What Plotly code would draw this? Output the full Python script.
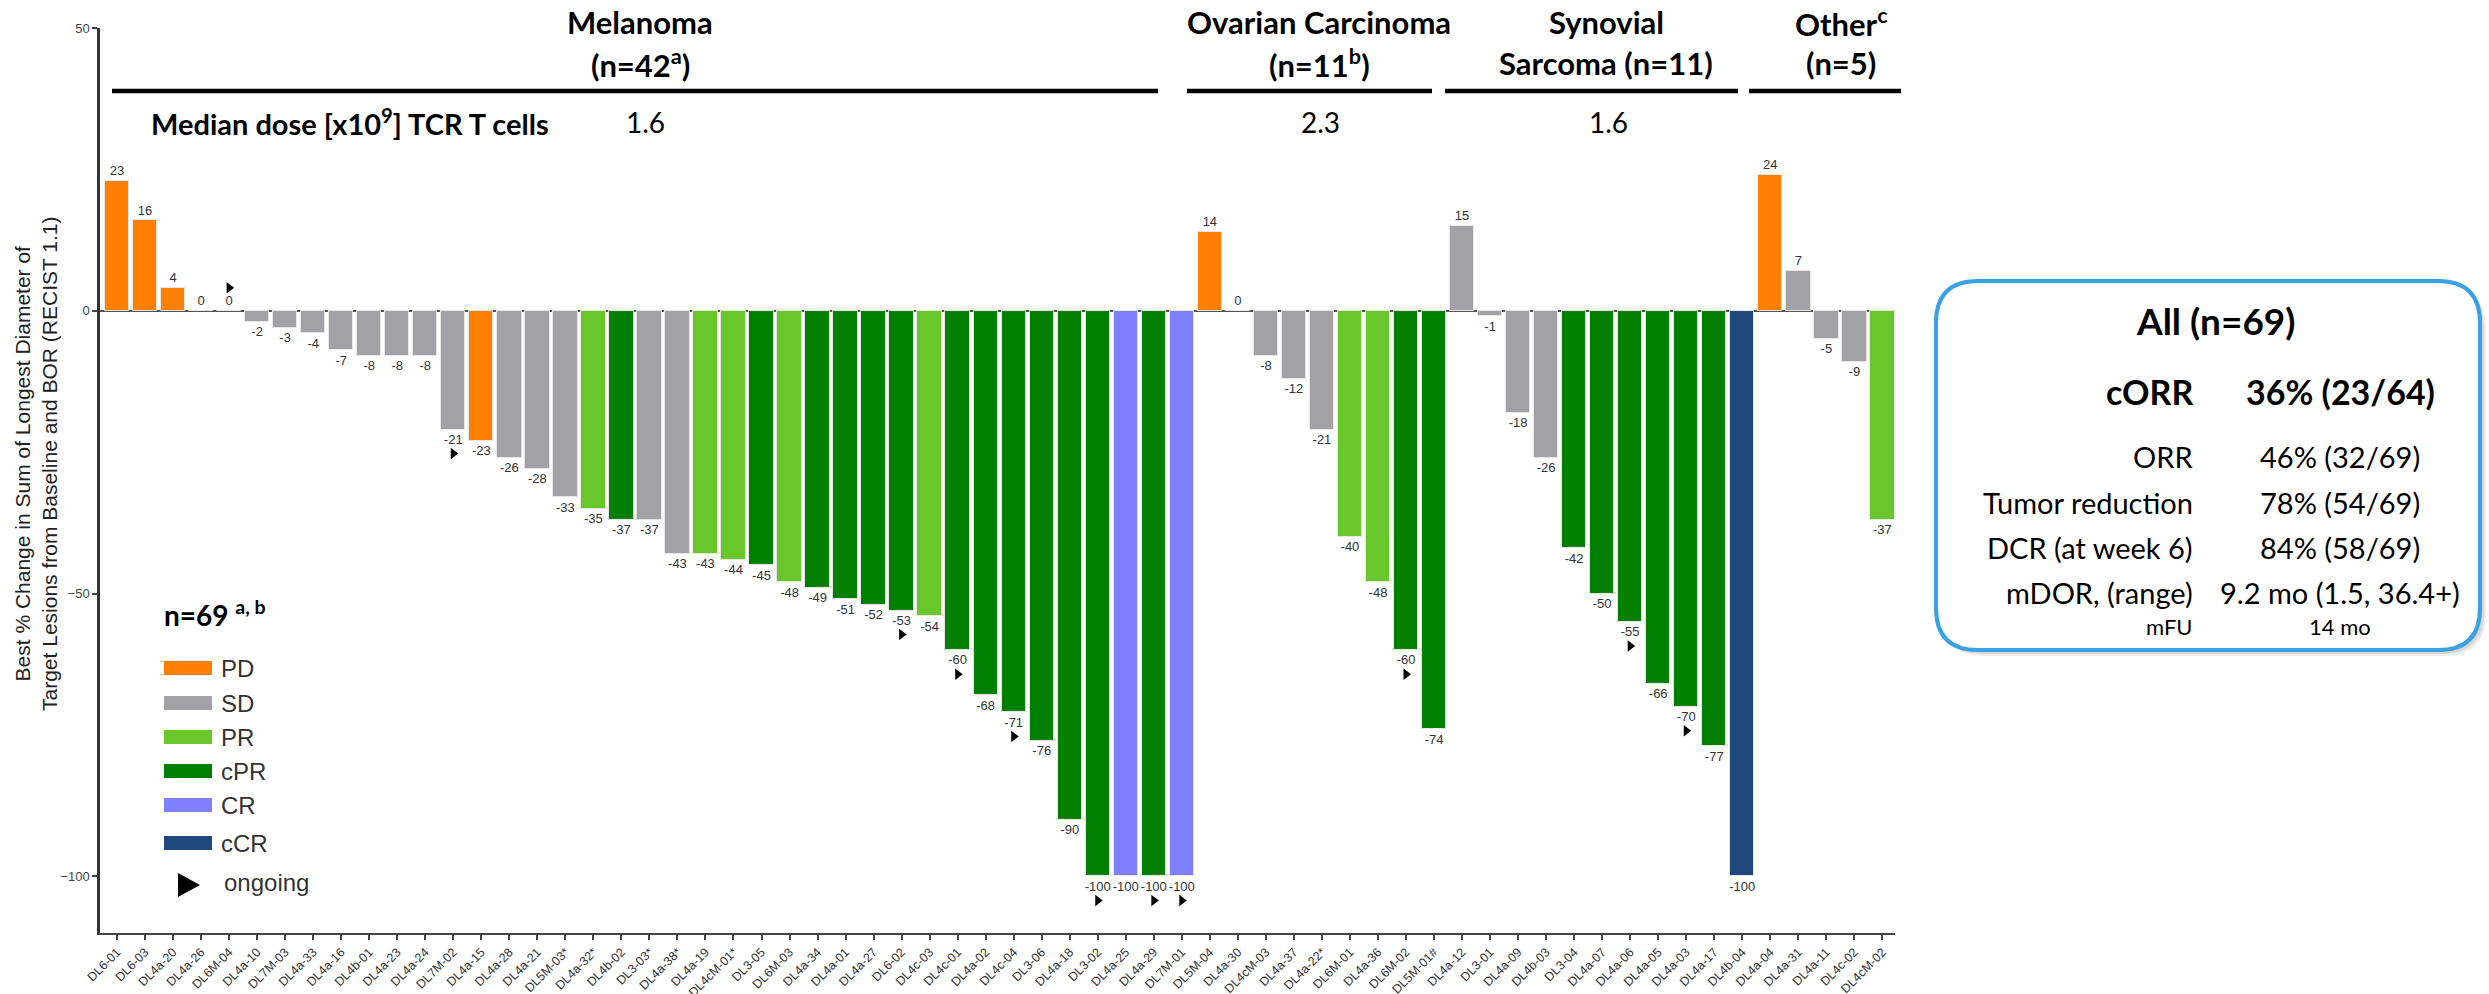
import plotly.graph_objects as go

# ---------------- data ----------------
patients = [
    "DL6-01", "DL6-03", "DL4a-20", "DL4a-26", "DL6M-04", "DL4a-10", "DL7M-03", "DL4a-33",
    "DL4a-16", "DL4b-01", "DL4a-23", "DL4a-24", "DL7M-02", "DL4a-15", "DL4a-28", "DL4a-21",
    "DL5M-03*", "DL4a-32*", "DL4b-02", "DL3-03*", "DL4a-38*", "DL4a-19", "DL4cM-01*", "DL3-05",
    "DL6M-03", "DL4a-34", "DL4a-01", "DL4a-27", "DL6-02", "DL4c-03", "DL4c-01", "DL4a-02",
    "DL4c-04", "DL3-06", "DL4a-18", "DL3-02", "DL4a-25", "DL4a-29", "DL7M-01",
    "DL5M-04", "DL4a-30", "DL4cM-03", "DL4a-37", "DL4a-22*", "DL6M-01", "DL4a-36", "DL6M-02",
    "DL5M-01#",
    "DL4a-12", "DL3-01", "DL4a-09", "DL4b-03", "DL3-04", "DL4a-07", "DL4a-06", "DL4a-05",
    "DL4a-03", "DL4a-17", "DL4b-04",
    "DL4a-04", "DL4a-31", "DL4a-11", "DL4c-02", "DL4cM-02",
]

best_change = [
    23, 16, 4, 0, 0, -2, -3, -4, -7, -8, -8, -8, -21, -23, -26, -28,
    -33, -35, -37, -37, -43, -43, -44, -45, -48, -49, -51, -52, -53, -54, -60, -68,
    -71, -76, -90, -100, -100, -100, -100,
    14, 0, -8, -12, -21, -40, -48, -60, -74,
    15, -1, -18, -26, -42, -50, -55, -66, -70, -77, -100,
    24, 7, -5, -9, -37,
]

response = [
    "PD", "PD", "PD", "SD", "SD", "SD", "SD", "SD", "SD", "SD", "SD", "SD", "SD", "PD", "SD", "SD",
    "SD", "PR", "cPR", "SD", "SD", "PR", "PR", "cPR", "PR", "cPR", "cPR", "cPR", "cPR", "PR", "cPR", "cPR",
    "cPR", "cPR", "cPR", "cPR", "CR", "cPR", "CR",
    "PD", "SD", "SD", "SD", "SD", "PR", "PR", "cPR", "cPR",
    "SD", "SD", "SD", "SD", "cPR", "cPR", "cPR", "cPR", "cPR", "cPR", "cCR",
    "PD", "SD", "SD", "SD", "PR",
]

ongoing = [
    "DL6M-04", "DL7M-02", "DL6-02", "DL4c-01", "DL4c-04", "DL3-02", "DL4a-29", "DL7M-01",
    "DL6M-02", "DL4a-06", "DL4a-03",
]

response_order = ["PD", "SD", "PR", "cPR", "CR", "cCR"]
response_colors = ["#FF8000", "#A2A2A6", "#69C62B", "#007F00", "#8080FF", "#1F497D"]

group_titles = ["Melanoma", "Ovarian Carcinoma", "Synovial", "Other<sup>c</sup>"]
group_subtitles = ["(n=42<sup>a</sup>)", "(n=11<sup>b</sup>)", "Sarcoma (n=11)", "(n=5)"]
median_doses = ["1.6", "2.3", "1.6"]

summary_labels = ["ORR", "Tumor reduction", "DCR (at week 6)", "mDOR, (range)"]
summary_values = ["46% (32/69)", "78% (54/69)", "84% (58/69)", "9.2 mo (1.5, 36.4+)"]

# ---------------- layout geometry (pixels) ----------------
W, H = 2489, 994
PL, PR_, PT, PB = 100, 1895, 28, 933
Y_MIN, Y_MAX = -110, 50
X_MIN, X_MAX = -0.607, 63.45
PX_PER_UNIT = (PB - PT) / (Y_MAX - Y_MIN)

CAL = "Lato, Calibri, 'Open Sans', sans-serif"
ARI = "'Liberation Sans', Arial, Helvetica, sans-serif"


def px(x):
    return (x - PL) / (PR_ - PL)


def py(y):
    return (PB - y) / (PB - PT)


color_of = dict(zip(response_order, response_colors))

fig = go.Figure()

# bars
fig.add_trace(go.Bar(
    x=patients, y=best_change, width=0.87,
    marker=dict(color=[color_of[r] for r in response], line=dict(color="#e6e6e6", width=1)),
    hoverinfo="skip", showlegend=False,
))

# value labels, just beyond the end of each bar
lab_y = [v + 9 / PX_PER_UNIT if v >= 0 else v - 11 / PX_PER_UNIT for v in best_change]
fig.add_trace(go.Scatter(
    x=patients, y=lab_y, mode="text", text=[str(v) for v in best_change],
    textposition="middle center", textfont=dict(family=ARI, size=13, color="#333333"),
    hoverinfo="skip", showlegend=False, cliponaxis=False,
))

# ongoing markers
on_x = [p for p in patients if p in ongoing]
on_y = []
for p in on_x:
    v = best_change[patients.index(p)]
    on_y.append(v + 23 / PX_PER_UNIT if v >= 0 else v - 24 / PX_PER_UNIT)
fig.add_trace(go.Scatter(
    x=on_x, y=on_y, mode="markers",
    marker=dict(symbol="triangle-right", size=10, color="black"),
    hoverinfo="skip", showlegend=False, cliponaxis=False,
))

annotations = []
shapes = []


def note(text, x, y, size, family=CAL, xanchor="center", color="black", angle=0):
    annotations.append(dict(
        text=text, x=px(x), y=py(y), xref="paper", yref="paper", showarrow=False,
        xanchor=xanchor, yanchor="middle", textangle=angle,
        font=dict(family=family, size=size, color=color),
    ))


# group headers
title_x = [640, 1319, 1606, 1841]
line_spans = [(112, 1158), (1187, 1432), (1445, 1738), (1749, 1901)]
for t, s, cx, (a, b) in zip(group_titles, group_subtitles, title_x, line_spans):
    note("<b>%s</b>" % t, cx, 22, 31)
    note("<b>%s</b>" % s, cx, 63, 31)
    shapes.append(dict(type="line", xref="paper", yref="paper", x0=px(a), x1=px(b),
                       y0=py(91), y1=py(91), line=dict(color="black", width=4.5)))

note("<b>Median dose [x10<sup>9</sup>] TCR T cells</b>", 149, 122, 29, xanchor="left")
for d, cx in zip(median_doses, [645, 1320, 1608]):
    note(d, cx, 122, 28)

# y axis title
note("Best % Change in Sum of Longest Diameter of<br>Target Lesions from Baseline and BOR (RECIST 1.1)",
     36, 464, 21, family=ARI, color="#222222", angle=-90)

# legend
note("<b>n=69 <sup>a, b</sup></b>", 162, 613, 28, xanchor="left")
leg_y = [668, 703, 737, 771, 805, 843]
for name, col, yy in zip(response_order, response_colors, leg_y):
    shapes.append(dict(type="rect", xref="paper", yref="paper", x0=px(164), x1=px(212),
                       y0=py(yy - 7), y1=py(yy + 7), fillcolor=col, line=dict(width=0)))
    note(name, 219, yy, 24, family=ARI, xanchor="left", color="#333333")
shapes.append(dict(type="path", xref="paper", yref="paper",
                   path="M %f %f L %f %f L %f %f Z" % (px(178), py(873), px(200), py(885), px(178), py(897)),
                   fillcolor="black", line=dict(width=0)))
note("ongoing", 222, 882, 24, family=ARI, xanchor="left", color="#333333")


# summary box
def rounded(x0, y0, x1, y1, r):
    pts = [
        ("M", [(x0 + r, y0)]), ("L", [(x1 - r, y0)]), ("Q", [(x1, y0), (x1, y0 + r)]),
        ("L", [(x1, y1 - r)]), ("Q", [(x1, y1), (x1 - r, y1)]), ("L", [(x0 + r, y1)]),
        ("Q", [(x0, y1), (x0, y1 - r)]), ("L", [(x0, y0 + r)]), ("Q", [(x0, y0), (x0 + r, y0)]),
    ]
    out = []
    for cmd, ps in pts:
        out.append(cmd + " " + " ".join("%f,%f" % (px(a), py(b)) for a, b in ps))
    return " ".join(out) + " Z"


BX0, BY0, BX1, BY1 = 1936, 281, 2480, 650
for off, alpha in [(6, 0.07), (4, 0.09), (2, 0.10)]:
    shapes.append(dict(type="path", xref="paper", yref="paper",
                       path=rounded(BX0 + off, BY0 + off, BX1 + off, BY1 + off, 42),
                       fillcolor="rgba(0,0,0,%.2f)" % alpha, line=dict(width=0)))
shapes.append(dict(type="path", xref="paper", yref="paper",
                   path=rounded(BX0, BY0, BX1, BY1, 42),
                   fillcolor="white", line=dict(color="#3AA1E4", width=4)))

note("<b>All (n=69)</b>", 2215, 320, 37)
note("<b>cORR</b>", 2195, 391, 34, xanchor="right")
note("<b>36% (23/64)</b>", 2340, 391, 34)
for lab, val, yy in zip(summary_labels, summary_values, [456, 502, 547, 592]):
    note(lab, 2195, yy, 29, xanchor="right")
    note(val, 2340, yy, 29)
note("mFU", 2195, 626, 22, xanchor="right")
note("14 mo", 2340, 626, 22)

fig.update_layout(
    width=W, height=H,
    margin=dict(l=PL, r=W - PR_, t=PT, b=H - PB, autoexpand=False),
    paper_bgcolor="white", plot_bgcolor="white",
    bargap=0, showlegend=False, hovermode=False,
    annotations=annotations, shapes=shapes,
    xaxis=dict(
        type="category", categoryorder="array", categoryarray=patients,
        range=[X_MIN, X_MAX], showgrid=False, zeroline=False,
        showline=True, linecolor="#444444", linewidth=2,
        ticks="outside", ticklen=5, tickcolor="#444444", tickwidth=1.5,
        tickangle=-45, tickfont=dict(family=ARI, size=12.5, color="#333333"),
        automargin=False,
    ),
    yaxis=dict(
        range=[Y_MIN, Y_MAX], tickvals=[50, 0, -50, -100], showgrid=False,
        zeroline=True, zerolinecolor="#555555", zerolinewidth=2,
        showline=True, linecolor="#333333", linewidth=2.5,
        ticks="outside", ticklen=5, tickcolor="#444444", tickwidth=1.5,
        tickfont=dict(family=ARI, size=13, color="#444444"),
        automargin=False,
    ),
)

fig.write_html("out.html")
